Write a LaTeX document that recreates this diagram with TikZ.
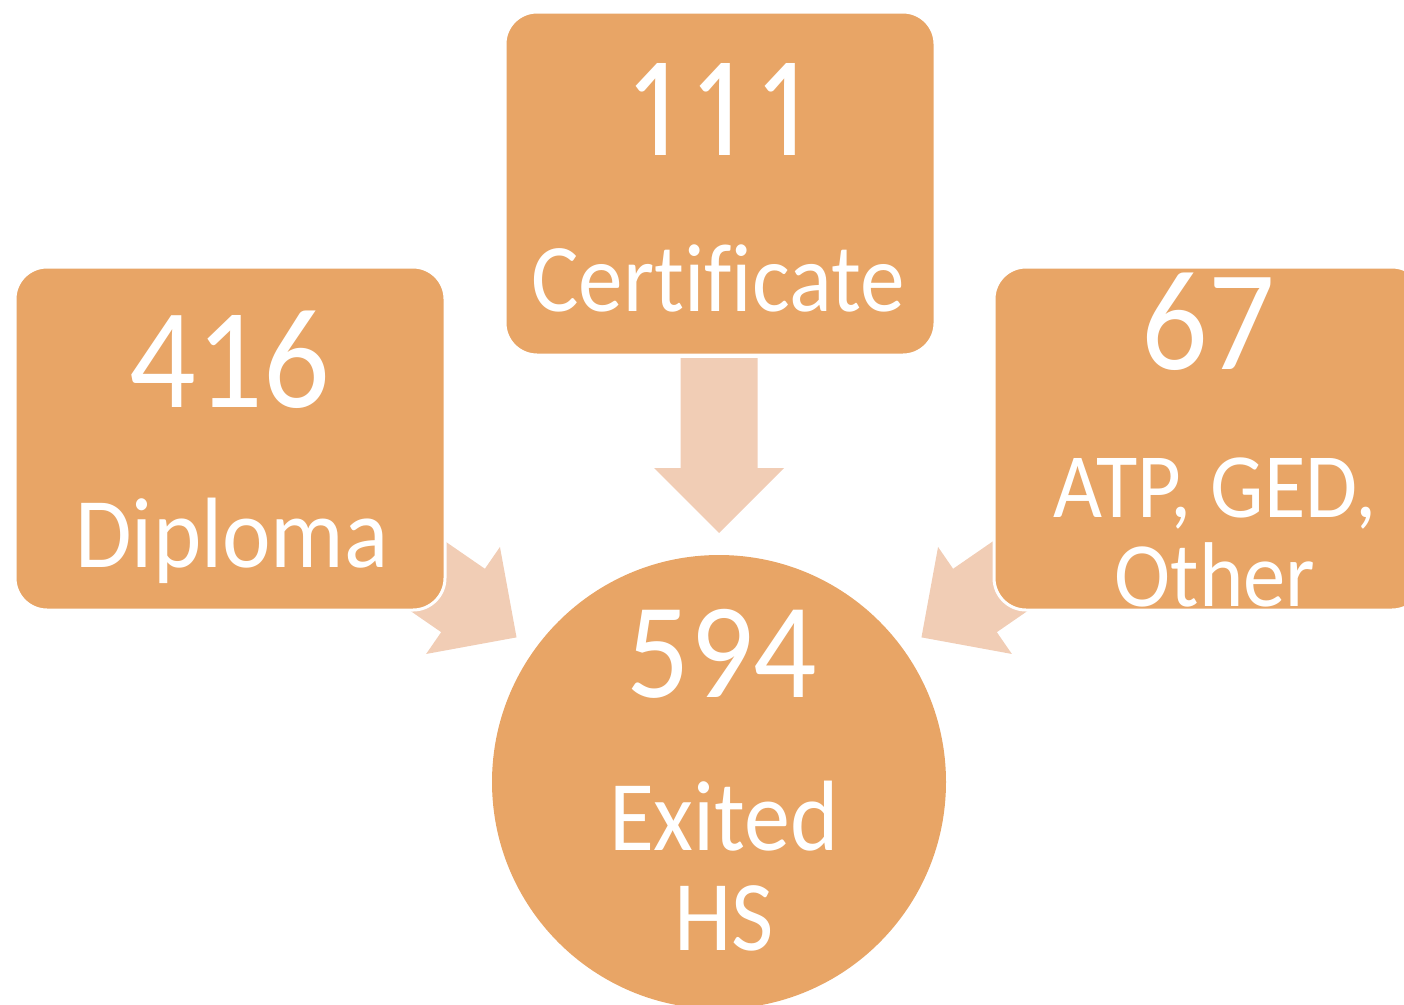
\documentclass[tikz,border=0pt]{standalone}
\usepackage{fontspec}
\setmainfont[FakeStretch=0.92,Ligatures={NoCommon}]{Carlito}
\usetikzlibrary{positioning}
\definecolor{boxfill}{HTML}{E8A566}
\definecolor{arrowfill}{HTML}{F1CDB5}
\newcommand{\countfont}{\fontsize{143}{143}\selectfont}
\newcommand{\kindfont}{\fontsize{100}{100}\selectfont}

\begin{document}
\begin{tikzpicture}[x=1pt,y=-1pt,
  box/.style={rectangle,rounded corners=32pt,fill=boxfill,draw=white,line width=3pt,minimum width=430pt,minimum height=343pt},
  count/.style={anchor=base,text=white,font=\countfont,inner sep=0pt},
  kind/.style={anchor=base,text=white,font=\kindfont,inner sep=0pt,align=center},
  blockarrow/.pic={\fill[arrowfill] (-38.5,0) -- (38.5,0) -- (38.5,110) -- (65,110) -- (0,175) -- (-65,110) -- (-38.5,110) -- cycle;}]
\clip (0,0) rectangle (1404,1004);

%arrows into the total
\pic[rotate=55.4]  at ( 372.5,538) {blockarrow};
\pic               at (   719,358) {blockarrow};
\pic[rotate=-55.4] at (1065.5,538) {blockarrow};

%exit kinds
\node[box]   (diplomaBox)      at (  230,438.5) {};
\node[count] (diplomaCount)    at (  230,  407) {416};
\node[kind]  (diplomaKind)     at (  232,  567) {Diploma};
\node[box]   (certificateBox)  at (  720,183.5) {};
\node[count] (certificateCount) at ( 719,  155) {\addfontfeature{Numbers=Proportional}1\kern19pt1\kern19pt1};
\node[kind]  (certificateKind) at (  718,  311) {\fontsize{97}{100}\selectfont Certificate};
\node[box]   (otherBox)        at ( 1209,438.5) {};
\node[count] (otherCount)      at ( 1208,  369) {67};
\node[kind,font=\fontsize{92}{89}\selectfont] (otherKind) at (1215,606) {ATP, GED,\\Other};

%total
\node[circle,fill=boxfill,minimum size=454pt] (exitCircle) at (719,782) {};
\node[count,font=\fontsize{136}{136}\selectfont] (exitCount) at (722,697) {594};
\node[kind]  (exitKind)        at (  724,  950) {Exited\\HS};
\end{tikzpicture}
\end{document}
